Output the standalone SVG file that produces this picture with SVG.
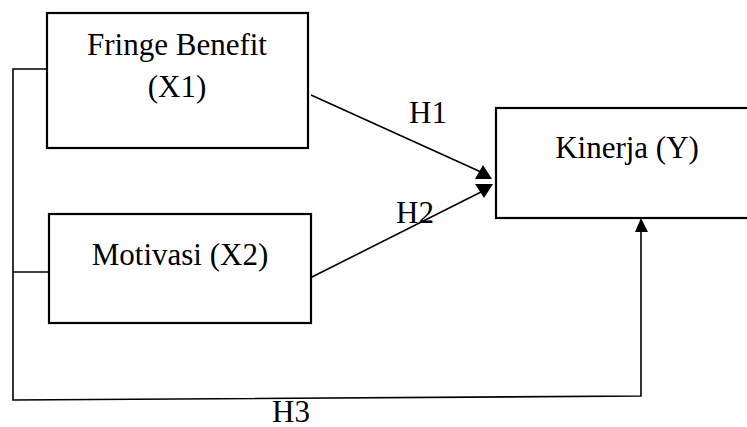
<svg xmlns="http://www.w3.org/2000/svg" width="747" height="427" viewBox="0 0 747 427">
<style>
.box{fill:#fff;stroke:#000;stroke-width:2.2}
.ln{fill:none;stroke:#000;stroke-width:1.6}
.hd{fill:#000;stroke:none}
text{font-family:"Liberation Serif","Times New Roman",serif;font-size:31px;fill:#000;text-anchor:middle}
</style>
<rect width="747" height="427" fill="#fff"/>
<g id="connectors">
<polyline class="ln" points="47,69 13,69 13,400 641,396 641,230"/>
<line class="ln" x1="13" y1="272" x2="49" y2="272"/>
<line class="ln" x1="311" y1="95" x2="481" y2="172"/>
<line class="ln" x1="306" y1="280" x2="483" y2="191"/>
<polygon class="hd" points="483,165 475,179 492,179"/>
<polygon class="hd" points="475,184 493,184 484,198"/>
<polygon class="hd" points="641,218 635,232 648,232"/>
<text x="428" y="123">H1</text>
<text x="415" y="223">H2</text>
<text x="291" y="422">H3</text>
</g>
<g id="x1">
<rect class="box" x="47" y="13" width="261" height="135"/>
<text x="177" y="55">Fringe Benefit</text>
<text x="177" y="97">(X1)</text>
</g>
<g id="x2">
<rect class="box" x="49" y="214" width="262" height="109"/>
<text x="180" y="265">Motivasi (X2)</text>
</g>
<g id="y">
<rect class="box" x="496" y="108" width="260" height="110"/>
<text x="627" y="158">Kinerja (Y)</text>
</g>
</svg>
